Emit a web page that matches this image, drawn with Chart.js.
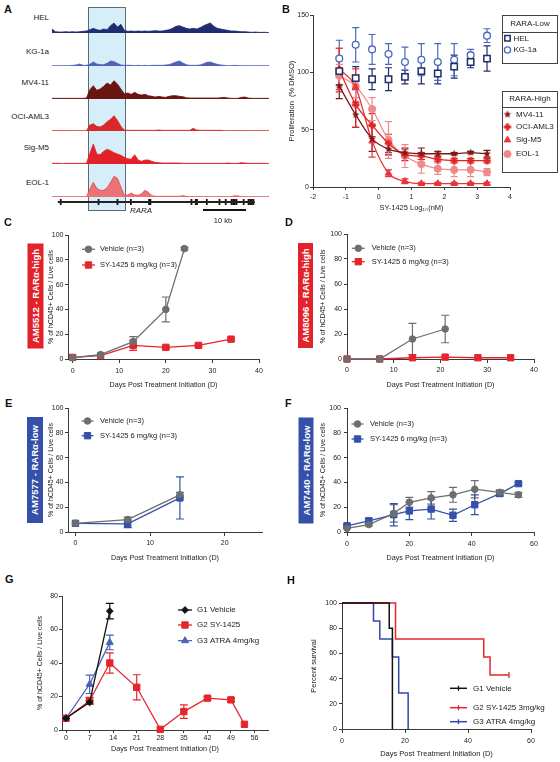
<!DOCTYPE html>
<html>
<head>
<meta charset="utf-8">
<title>SY-1425 / RARA figure</title>
<script src="https://cdn.jsdelivr.net/npm/chart.js@4.4.1/dist/chart.umd.min.js"></script>
<style>
  html, body { margin: 0; padding: 0; background: #fff; }
  #page { position: relative; width: 560px; height: 762px; overflow: hidden;
          font-family: "Liberation Sans", Arial, "DejaVu Sans", sans-serif; color: #222; }
  #page canvas { position: absolute; }
  .t { position: absolute; white-space: nowrap; line-height: 1; }
  .pl { font-size: 11px; font-weight: bold; color: #111; }
  .trk { left: 0; width: 49px; text-align: right; font-size: 8px; color: #222; }
  .tag { position: absolute; color: #fff; font-weight: bold; font-size: 9.5px; text-align: center;
         white-space: nowrap; transform: rotate(-90deg); }
  .hl { position: absolute; background: #d5eef9; border: 1px solid #5b6b72; box-sizing: border-box; }
</style>
</head>
<body>
<div id="page">
  <!-- panel A -->
  <div class="hl" style="left:88px;top:7px;width:38px;height:204px"></div>
  <canvas id="trHEL"></canvas>
  <canvas id="trKG"></canvas>
  <canvas id="trMV"></canvas>
  <canvas id="trOCI"></canvas>
  <canvas id="trSIG"></canvas>
  <canvas id="trEOL"></canvas>
  <canvas id="gene"></canvas>
  <div class="t trk" style="top:14.3px">HEL</div>
  <div class="t trk" style="top:47.7px">KG-1a</div>
  <div class="t trk" style="top:79.3px">MV4-11</div>
  <div class="t trk" style="top:112.7px">OCI-AML3</div>
  <div class="t trk" style="top:144.3px">Sig-M5</div>
  <div class="t trk" style="top:179.3px">EOL-1</div>
  <div class="t" style="left:121px;width:40px;text-align:center;top:206.5px;font-size:8px;font-style:italic">RARA</div>
  <div style="position:absolute;left:203px;top:209px;width:43px;height:2px;background:#111"></div>
  <div class="t" style="left:203px;width:40px;text-align:center;top:216.5px;font-size:7.5px">10 kb</div>

  <!-- charts B-H -->
  <canvas id="chB"></canvas>
  <canvas id="chC"></canvas>
  <canvas id="chD"></canvas>
  <canvas id="chE"></canvas>
  <canvas id="chF"></canvas>
  <canvas id="chG"></canvas>
  <canvas id="chH"></canvas>

  <div class="tag" style="left:-17.5px;top:287.5px;width:105px;height:16px;line-height:16px;background:#e3232b">AM5512 - RARα-high</div>
  <div class="tag" style="left:253px;top:288px;width:105px;height:15px;line-height:15px;background:#e3232b">AM8096 - RARα-high</div>
  <div class="tag" style="left:-18px;top:462px;width:106px;height:16px;line-height:16px;background:#3550a8">AM7577 - RARα-low</div>
  <div class="tag" style="left:253px;top:462.5px;width:106px;height:15px;line-height:15px;background:#3550a8">AM7440 - RARα-low</div>

  <div class="t pl" style="left:4px;top:3.5px">A</div>
  <div class="t pl" style="left:282px;top:3.5px">B</div>
  <div class="t pl" style="left:4px;top:217px">C</div>
  <div class="t pl" style="left:285px;top:217px">D</div>
  <div class="t pl" style="left:5px;top:397.5px">E</div>
  <div class="t pl" style="left:285px;top:397.5px">F</div>
  <div class="t pl" style="left:5px;top:574px">G</div>
  <div class="t pl" style="left:287px;top:575px">H</div>
</div>

<script>
// ---------- Panel A: signal tracks over the RARA locus (64 bins) ----------
const trackHEL = [12, 4, 3, 3, 4, 3, 4, 3,   4, 5, 6, 10, 14, 10, 8, 12,
                  10, 22, 30, 18, 26, 8, 5, 6,   5, 6, 5, 6, 5, 6, 7, 6,
                  6, 8, 10, 14, 20, 22, 18, 14,   12, 14, 12, 16, 22, 26, 30, 20,
                  14, 12, 10, 8, 6, 6, 5, 4,   4, 3, 2, 3, 2, 2, 2, 1];
const trackKG1a = [1, 1, 1, 1, 1, 1, 2, 3,   6, 2, 2, 5, 12, 6, 4, 4,
                   8, 15, 13, 8, 3, 2, 2, 2,   1, 2, 1, 2, 1, 2, 2, 2,
                   2, 3, 4, 8, 12, 15, 9, 4,   2, 2, 2, 3, 7, 11, 12, 8,
                   5, 3, 2, 1, 1, 2, 1, 1,   1, 1, 1, 1, 1, 1, 1, 1];
const trackMV411 = [2, 2, 2, 2, 2, 2, 2, 2,   2, 2, 3, 28, 40, 26, 30, 38,
                    48, 42, 55, 45, 30, 16, 18, 14,   20, 14, 12, 14, 10, 8, 6, 8,
                    6, 5, 8, 10, 10, 8, 7, 4,   3, 3, 3, 3, 3, 3, 3, 3,
                    3, 4, 5, 3, 2, 2, 2, 5,   6, 3, 2, 2, 2, 2, 2, 2];
const trackOCI = [1, 1, 1, 1, 1, 1, 1, 1,   1, 1, 1, 18, 22, 14, 12, 18,
                  28, 35, 46, 32, 14, 3, 2, 2,   2, 2, 2, 2, 2, 2, 2, 3,
                  2, 2, 2, 2, 2, 2, 2, 2,   2, 8, 3, 2, 2, 2, 2, 2,
                  2, 2, 1, 1, 1, 1, 1, 1,   1, 1, 1, 1, 1, 1, 1, 1];
const trackSigM5 = [2, 2, 2, 1, 2, 2, 2, 2,   2, 2, 2, 32, 60, 30, 28, 38,
                    44, 40, 34, 30, 26, 20, 16, 14,   28, 12, 8, 12, 12, 8, 5, 4,
                    3, 3, 3, 3, 3, 3, 2, 2,   2, 2, 2, 2, 2, 2, 2, 2,
                    2, 2, 2, 3, 2, 2, 2, 4,   3, 2, 2, 2, 2, 2, 2, 1];
const trackEOL1 = [1, 1, 1, 1, 1, 1, 1, 1,   1, 1, 1, 24, 44, 26, 20, 20,
                   28, 44, 62, 56, 30, 5, 6, 12,   6, 5, 10, 20, 14, 4, 2, 2,
                   2, 2, 2, 2, 2, 2, 4, 2,   1, 1, 1, 1, 1, 1, 1, 1,
                   1, 1, 1, 1, 1, 4, 3, 1,   1, 1, 1, 1, 1, 1, 1, 1];
const geneEnd = 60.4;
const geneExons = [0.9, 12.5, 18.3, 22.4, 28, 28.4, 41, 42.3, 42.7, 45.7, 49.6, 51.5,
                   53.3, 53.8, 54.3, 54.8, 57, 58.5, 59, 59.5, 60];

// ---------- Panel B: proliferation vs SY-1425 dose ----------
const doseLog = [-1.2, -0.7, -0.2, 0.3, 0.8, 1.3, 1.8, 2.3, 2.8, 3.3];
const helProlif = [101, 95, 94, 94, 96, 101, 99, 105, 109, 112];
const helErr = [12, 10, 9, 10, 6, 11, 9, 10, 5, 11];
const kg1aProlif = [112, 124, 120, 116, 109, 111, 109, 111, 115, 132];
const kg1aErr = [16, 15, 13, 9, 13, 14, 16, 14, 5, 6];
const mv411Prolif = [88, 63, 42, 33, 30, 29, 29, 29, 30, 29];
const mv411Err = [11, 11, 11, 5, 4, 5, 2, 1, 1, 3];
const ociProlif = [102, 72, 54, 38, 28, 27, 24, 23, 23, 23];
const ociErr = [19, 20, 10, 8, 5, 3, 2, 2, 2, 2];
const sigm5Prolif = [103, 87, 40, 12, 5, 3, 3, 3, 3, 3];
const sigm5Err = [18, 16, 14, 3, 2, 1, 1, 1, 1, 1];
const eol1Prolif = [97, 88, 68, 41, 27, 20, 16, 15, 15, 13];
const eol1Err = [10, 10, 10, 16, 10, 8, 5, 6, 6, 3];
const bTicksX = [-2, -1, 0, 1, 2, 3, 4];
const bTicksY = [0, 50, 100, 150];

// ---------- Panel C: AM5512 ----------
const cVehDays = [0, 6, 13, 20, 24];
const cVeh = [1, 3.5, 14, 40, 89];
const cVehErr = [0, 0, 4, 10, 1];
const cSyDays = [0, 6, 13, 20, 27, 34];
const cSy = [1.3, 2.7, 11, 9.4, 11, 16];
const cSyErr = [0, 0, 4, 1, 1, 1];

// ---------- Panel D: AM8096 ----------
const dVehDays = [0, 7, 14, 21];
const dVeh = [0, 0, 16, 24];
const dVehErr = [0, 0, 12.5, 11];
const dSyDays = [0, 7, 14, 21, 28, 35];
const dSy = [0, 0, 1, 1.5, 1, 1];
const dSyErr = [0, 0, 0, 0, 0, 0];

// ---------- Panel E: AM7577 ----------
const eDays = [0, 7, 14];
const eVeh = [7, 10, 30];
const eVehErr = [0, 2, 2];
const eSy = [7, 6.5, 27.5];
const eSyErr = [0, 3, 17];

// ---------- Panel F: AM7440 ----------
const fDays = [0, 7, 15, 20, 27, 34, 41, 49, 55];
const fVeh = [3, 6, 15, 24, 27.5, 30, 34.5, 32, 30];
const fVehErr = [0, 1, 7, 4, 5, 6, 7, 2, 2];
const fSy = [5, 9, 14, 17, 18.5, 13.5, 22, 31, 39];
const fSyErr = [1, 2, 9, 7, 8, 5, 8, 2, 1];

// ---------- Panel G: three-arm PDX ----------
const gVehDays = [0, 7, 13];
const gVeh = [7, 16.5, 71];
const gVehErr = [0, 1, 4.6];
const gSyDays = [0, 7, 13, 21, 28, 35, 42, 49, 53];
const gSy = [7, 17.5, 40, 25.5, 0.4, 11, 19, 18, 3.4];
const gSyErr = [0, 2, 6, 7.5, 0, 4, 1, 1, 0];
const gAtraDays = [0, 7, 13];
const gAtra = [7, 27.3, 52.3];
const gAtraErr = [0, 5.5, 4.4];
const gTicksX = [0, 7, 14, 21, 28, 35, 42, 49, 56];

// ---------- Panel H: survival ----------
const hVehDays = [0, 15, 16];
const hVeh = [100, 80, 0];
const hSyDays = [0, 17, 45, 47, 53];
const hSy = [100, 71.4, 57.1, 42.9, 42.9];
const hAtraDays = [0, 10, 12, 16, 18, 21];
const hAtra = [100, 85.7, 71.4, 57.1, 28.6, 0];

// ---------------------------------------------------------------------------
const FONT = '"Liberation Sans", Arial, "DejaVu Sans", sans-serif';
const GRAY = '#6d6e70', RED = '#e4262c', BLUE = '#3550a8';

Chart.defaults.font.family = FONT;
Chart.defaults.color = '#222';
Chart.defaults.animation = false;
Chart.defaults.responsive = false;
Chart.defaults.maintainAspectRatio = false;
Chart.defaults.events = [];
Chart.defaults.plugins.legend.display = false;
Chart.defaults.plugins.tooltip.enabled = false;

const legendSpecs = {};

// error bars read from dataset.errors
const errorBars = {
  id: 'errorBars',
  beforeDatasetsDraw(chart) {
    const ctx = chart.ctx;
    chart.data.datasets.forEach((ds, i) => {
      if (!ds.errors) return;
      const meta = chart.getDatasetMeta(i);
      const ys = chart.scales[meta.yAxisID];
      const cap = ds.errCap || 4;
      ctx.save();
      ctx.strokeStyle = ds.borderColor;
      ctx.lineWidth = 1.2;
      meta.data.forEach((pt, j) => {
        const e = ds.errors[j];
        if (!e) return;
        const v = ds.data[j].y;
        const top = ys.getPixelForValue(v + e), bot = ys.getPixelForValue(v - e);
        ctx.beginPath();
        ctx.moveTo(pt.x, top); ctx.lineTo(pt.x, bot);
        ctx.moveTo(pt.x - cap, top); ctx.lineTo(pt.x + cap, top);
        ctx.moveTo(pt.x - cap, bot); ctx.lineTo(pt.x + cap, bot);
        ctx.stroke();
      });
      ctx.restore();
    });
  }
};

// legend drawn at fixed page positions (line + marker + label)
const keyBox = {
  id: 'keyBox',
  afterDraw(chart) {
    const spec = legendSpecs[chart.canvas.id];
    if (!spec) return;
    const ctx = chart.ctx;
    const ox = parseFloat(chart.canvas.style.left), oy = parseFloat(chart.canvas.style.top);
    ctx.save();
    ctx.font = spec.font + 'px ' + FONT;
    ctx.textBaseline = 'middle';
    (spec.boxes || []).forEach(b => {
      ctx.strokeStyle = '#444';
      ctx.lineWidth = 1;
      ctx.strokeRect(b.x0 - ox + 0.5, b.y0 - oy + 0.5, b.x1 - b.x0, b.y1 - b.y0);
      ctx.beginPath();
      ctx.moveTo(b.x0 - ox, b.hy - oy + 0.5);
      ctx.lineTo(b.x1 - ox + 1, b.hy - oy + 0.5);
      ctx.stroke();
      ctx.fillStyle = '#222';
      ctx.textAlign = 'center';
      ctx.fillText(b.title, (b.x0 + b.x1) / 2 - ox + 0.5, b.ty - oy);
    });
    spec.items.forEach(it => {
      const ds = chart.data.datasets[it.ds];
      const x = it.x - ox, y = it.y - oy;
      if (it.line) {
        ctx.strokeStyle = ds.borderColor;
        ctx.lineWidth = ds.borderWidth || 1;
        ctx.beginPath();
        ctx.moveTo(x - it.line, y); ctx.lineTo(x + it.line, y);
        ctx.stroke();
      }
      ctx.fillStyle = ds.pointBackgroundColor || ds.backgroundColor || ds.borderColor;
      ctx.strokeStyle = ds.pointBorderColor || ds.borderColor;
      ctx.lineWidth = ds.pointBorderWidth || 1;
      const r = it.r != null ? it.r : ds.pointRadius;
      Chart.helpers.drawPoint(ctx, { pointStyle: ds.pointStyle, rotation: ds.pointRotation || 0,
                                     radius: r, borderWidth: ctx.lineWidth }, x, y);
      ctx.fillStyle = '#222';
      ctx.textAlign = 'left';
      ctx.fillText(ds.label, it.tx - ox, y);
    });
    ctx.restore();
  }
};
Chart.register(errorBars, keyBox);

function starImg(color, r) {
  const c = document.createElement('canvas');
  const s = Math.ceil(r * 2 + 2);
  c.width = c.height = s;
  const g = c.getContext('2d');
  g.fillStyle = color;
  g.beginPath();
  for (let k = 0; k < 10; k++) {
    const rr = k % 2 ? r * 0.45 : r;
    const a = -Math.PI / 2 + k * Math.PI / 5;
    g.lineTo(s / 2 + rr * Math.cos(a), s / 2 + rr * Math.sin(a));
  }
  g.closePath();
  g.fill();
  return c;
}

function plusImg(color, r) {
  const c = document.createElement('canvas');
  const s = Math.ceil(r * 2 + 2);
  c.width = c.height = s;
  const g = c.getContext('2d');
  g.fillStyle = color;
  g.fillRect(s / 2 - r, s / 2 - r * 0.42, 2 * r, r * 0.84);
  g.fillRect(s / 2 - r * 0.42, s / 2 - r, r * 0.84, 2 * r);
  return c;
}

function axis(pos, a, size) {
  return {
    type: 'linear', position: pos, min: a.min, max: a.max,
    ticks: { autoSkip: false, maxRotation: 0, minRotation: 0, padding: a.pad, color: '#222',
             font: { size: a.fs || 7 } },
    grid: { drawOnChartArea: false, drawTicks: true, tickLength: a.tl, tickColor: '#3a3a3a', tickWidth: 1 },
    border: { display: true, color: '#3a3a3a', width: 1 },
    title: { display: true, text: a.title, color: '#222', font: { size: a.tfs || 7 }, padding: 0 },
    afterBuildTicks: s => { s.ticks = a.ticks.map(v => ({ value: v })); },
    afterFit: s => { if (pos === 'bottom') s.height = size; else s.width = size; }
  };
}

// plot = chart area in page px; ext = y-axis width, x-axis height, paddings
function panel(id, plot, ext, xa, ya, datasets, key) {
  const cv = document.getElementById(id);
  const left = plot.l - ext.yw, top = plot.t - ext.padT;
  const w = plot.r - plot.l + ext.yw + ext.padR;
  const h = plot.b - plot.t + ext.padT + ext.xh;
  Object.assign(cv.style, { left: left + 'px', top: top + 'px', width: w + 'px', height: h + 'px' });
  cv.width = w; cv.height = h;
  if (key) legendSpecs[id] = key;
  return new Chart(cv, {
    type: 'scatter',
    data: { datasets },
    options: {
      devicePixelRatio: 1,
      layout: { padding: { left: 0, top: ext.padT, right: ext.padR, bottom: 0 } },
      scales: { x: axis('bottom', xa, ext.xh), y: axis('left', ya, ext.yw) }
    }
  });
}

function series(label, xs, ys, errs, style) {
  return Object.assign({
    label, data: xs.map((x, i) => ({ x, y: ys[i] })), errors: errs,
    showLine: true, clip: false, fill: false, borderWidth: 1.3, pointBorderWidth: 1, tension: 0
  }, style);
}

// ---------- A ----------
function track(id, values, fillColor, edgeColor, baseline) {
  const cv = document.getElementById(id);
  Object.assign(cv.style, { left: '52px', top: (baseline - 26) + 'px', width: '217px', height: '26px' });
  cv.width = 217; cv.height = 26;
  new Chart(cv, {
    type: 'line',
    data: { labels: values.map((_, i) => i),
            datasets: [{ data: values, borderColor: edgeColor, backgroundColor: fillColor, borderWidth: 0.8,
                         fill: 'origin', pointRadius: 0, tension: 0, clip: false }] },
    options: { devicePixelRatio: 1, layout: { padding: 0 },
               scales: { x: { display: false }, y: { display: false, min: 0, max: 78 } } }
  });
}
track('trHEL', trackHEL, '#1f2d70', '#1f2d70', 33);
track('trKG', trackKG1a, '#4c61b8', '#4c61b8', 66);
track('trMV', trackMV411, '#6b1511', '#6b1511', 99);
track('trOCI', trackOCI, '#d8282b', '#d8282b', 131);
track('trSIG', trackSigM5, '#e2222a', '#e2222a', 164);
track('trEOL', trackEOL1, '#ec7275', '#e2474c', 197);

(function gene() {
  const cv = document.getElementById('gene');
  Object.assign(cv.style, { left: '52px', top: '196px', width: '217px', height: '12px' });
  cv.width = 217; cv.height = 12;
  new Chart(cv, {
    type: 'scatter',
    data: { datasets: [
      { data: [{ x: 0, y: 0 }, { x: geneEnd, y: 0 }], showLine: true, borderColor: '#222', borderWidth: 2,
        pointRadius: 0, clip: false },
      { data: geneExons.map(x => ({ x, y: 0 })), pointStyle: 'line', pointRotation: 90, pointRadius: 3,
        pointBorderWidth: 1.8, borderColor: '#111', clip: false }
    ] },
    options: { devicePixelRatio: 1, layout: { padding: 0 },
               scales: { x: { type: 'linear', display: false, min: 0, max: 63 },
                         y: { display: false, min: -1, max: 1 } } }
  });
})();

// ---------- B ----------
const NAVY = '#1f2e6e', KGB = '#4a68c0', MVC = '#7b1a1a', OCIC = '#e02424', SIGC = '#e8353a', EOLC = '#f08a8a';
panel('chB', { l: 313, t: 15, r: 510, b: 187 }, { yw: 26, xh: 25, padT: 8, padR: 50 },
  { min: -2, max: 4, ticks: bTicksX, tl: 3, pad: 3, title: 'SY-1425 Log\u2081\u2080(nM)', tfs: 7.5 },
  { min: 0, max: 150, ticks: bTicksY, tl: 3, pad: 1, title: 'Proliferation  (% DMSO)', tfs: 7.5 },
  [
    series('HEL', doseLog, helProlif, helErr, { showLine: false, borderColor: NAVY, backgroundColor: '#fff',
      pointStyle: 'rect', pointRadius: 4.5, pointBorderWidth: 1.5, errCap: 3.5 }),
    series('KG-1a', doseLog, kg1aProlif, kg1aErr, { showLine: false, borderColor: KGB, backgroundColor: '#fff',
      pointStyle: 'circle', pointRadius: 3.4, pointBorderWidth: 1.3, errCap: 3.5 }),
    series('MV4-11', doseLog, mv411Prolif, mv411Err, { borderColor: MVC, backgroundColor: MVC,
      pointStyle: starImg(MVC, 4), pointRadius: 4, cubicInterpolationMode: 'monotone', errCap: 3.5 }),
    series('OCI-AML3', doseLog, ociProlif, ociErr, { borderColor: OCIC, backgroundColor: OCIC,
      pointStyle: plusImg(OCIC, 3.6), pointRadius: 4, cubicInterpolationMode: 'monotone', errCap: 3.5 }),
    series('Sig-M5', doseLog, sigm5Prolif, sigm5Err, { borderColor: SIGC, backgroundColor: SIGC,
      pointStyle: 'triangle', pointRadius: 3.8, cubicInterpolationMode: 'monotone', errCap: 3.5 }),
    series('EOL-1', doseLog, eol1Prolif, eol1Err, { borderColor: EOLC, backgroundColor: EOLC,
      pointStyle: 'circle', pointRadius: 3.6, cubicInterpolationMode: 'monotone', errCap: 3.5 })
  ],
  {
    font: 8,
    boxes: [{ x0: 502, y0: 15, x1: 557, y1: 63, hy: 32, ty: 23.5, title: 'RARA-Low' },
            { x0: 502, y0: 91, x1: 557, y1: 172, hy: 107, ty: 99, title: 'RARA-High' }],
    items: [{ ds: 0, x: 507.5, y: 38.3, tx: 513.5, r: 3.8 }, { ds: 1, x: 507.5, y: 50, tx: 513.5, r: 3.1 },
            { ds: 2, x: 507.5, y: 114.5, tx: 516 }, { ds: 3, x: 507.5, y: 127, tx: 516 },
            { ds: 4, x: 507.5, y: 140, tx: 516 }, { ds: 5, x: 507.5, y: 154, tx: 516 }]
  });

// ---------- C-F ----------
const yPct = { min: 0, max: 100, ticks: [0, 20, 40, 60, 80, 100], tl: 3, pad: 1.5,
               title: '% of hCD45+ Cells / Live cells', tfs: 7 };
const daysTitle = 'Days Post Treatment Initiation (D)';
const vehStyle = { borderColor: GRAY, backgroundColor: GRAY, pointStyle: 'circle', pointRadius: 3.3 };
const redSq = { borderColor: RED, backgroundColor: RED, pointStyle: 'rect', pointRadius: 4.5 };
const blueSq = { borderColor: BLUE, backgroundColor: BLUE, pointStyle: 'rect', pointRadius: 4.5 };

panel('chC', { l: 68, t: 235, r: 259, b: 359 }, { yw: 21, xh: 30, padT: 8, padR: 10 },
  { min: -1, max: 40, ticks: [0, 10, 20, 30, 40], tl: 4, pad: 3.5, title: daysTitle, tfs: 7.2 },
  yPct,
  [series('Vehicle (n=3)', cVehDays, cVeh, cVehErr, vehStyle),
   series('SY-1425 6 mg/kg (n=3)', cSyDays, cSy, cSyErr, redSq)],
  { font: 7.5, items: [{ ds: 0, x: 88.5, y: 249.3, line: 6.5, tx: 100 },
                       { ds: 1, x: 88.5, y: 265, line: 6.5, tx: 100 }] });

panel('chD', { l: 347, t: 234, r: 534, b: 359 }, { yw: 28, xh: 30, padT: 8, padR: 10 },
  { min: 0, max: 40, ticks: [0, 10, 20, 30, 40], tl: 4, pad: 3, title: daysTitle, tfs: 7.2 },
  Object.assign({}, yPct, { pad: 2 }),
  [series('Vehicle (n=3)', dVehDays, dVeh, dVehErr, vehStyle),
   series('SY-1425 6 mg/kg (n=3)', dSyDays, dSy, dSyErr, redSq)],
  { font: 7.5, items: [{ ds: 0, x: 358.3, y: 248.3, line: 6.5, tx: 371.7 },
                       { ds: 1, x: 358.3, y: 261.7, line: 6.5, tx: 371.7 }] });

panel('chE', { l: 68, t: 408, r: 262, b: 532 }, { yw: 21, xh: 30, padT: 8, padR: 10 },
  { min: -1, max: 25, ticks: [0, 10, 20], tl: 4, pad: 3, title: daysTitle, tfs: 7.2 },
  yPct,
  [series('Vehicle (n=3)', eDays, eVeh, eVehErr, vehStyle),
   series('SY-1425 6 mg/kg (n=3)', eDays, eSy, eSyErr, blueSq)],
  { font: 7.5, items: [{ ds: 0, x: 87.5, y: 421, line: 6, tx: 100 },
                       { ds: 1, x: 87.5, y: 435.7, line: 6, tx: 100 }] });

panel('chF', { l: 347, t: 408, r: 534, b: 532 }, { yw: 28, xh: 30, padT: 8, padR: 10 },
  { min: 0, max: 60, ticks: [0, 20, 40, 60], tl: 4, pad: 4, title: daysTitle, tfs: 7.2 },
  Object.assign({}, yPct, { pad: 3 }),
  [series('Vehicle (n=3)', fDays, fVeh, fVehErr, vehStyle),
   series('SY-1425 6 mg/kg (n=3)', fDays, fSy, fSyErr, blueSq)],
  { font: 7.5, items: [{ ds: 0, x: 357.5, y: 424, line: 6, tx: 370 },
                       { ds: 1, x: 357.5, y: 439, line: 6, tx: 370 }] });

// ---------- G ----------
panel('chG', { l: 62, t: 596, r: 268, b: 730 }, { yw: 26, xh: 23, padT: 8, padR: 10 },
  { min: -1.2, max: 60, ticks: gTicksX, tl: 3, pad: 1, title: daysTitle, tfs: 7.2 },
  { min: 0, max: 80, ticks: [0, 20, 40, 60, 80], tl: 3, pad: 1, title: '% of hCD45+ Cells / Live cells', tfs: 7 },
  [series('G1 Vehicle', gVehDays, gVeh, gVehErr, { borderColor: '#111', backgroundColor: '#111',
     pointStyle: 'rectRot', pointRadius: 3.4 }),
   series('G2 SY-1425', gSyDays, gSy, gSyErr, redSq),
   series('G3 ATRA 4mg/kg', gAtraDays, gAtra, gAtraErr, { borderColor: '#4a62b8', backgroundColor: '#4a62b8',
     pointStyle: 'triangle', pointRadius: 4 })],
  { font: 8, items: [{ ds: 0, x: 185, y: 610, line: 7, tx: 197 },
                     { ds: 1, x: 185, y: 625, line: 7, tx: 197 },
                     { ds: 2, x: 185, y: 640.7, line: 7, tx: 197 }] });

// ---------- H ----------
const km = { stepped: true, pointStyle: 'line', pointRotation: 90, borderWidth: 1.5, pointBorderWidth: 1.3 };
panel('chH', { l: 342, t: 603, r: 531, b: 729 }, { yw: 33, xh: 29, padT: 8, padR: 20 },
  { min: 0, max: 60, ticks: [0, 20, 40, 60], tl: 4, pad: 3.5, title: daysTitle, tfs: 7.5 },
  { min: 0, max: 100, ticks: [0, 20, 40, 60, 80, 100], tl: 3, pad: 2, title: 'Percent survival', tfs: 7.5 },
  [series('G1 Vehicle', hVehDays, hVeh, null, Object.assign({}, km, { borderColor: '#111',
     pointRadius: hVeh.map(() => 0) })),
   series('G2 SY-1425 3mg/kg', hSyDays, hSy, null, Object.assign({}, km, { borderColor: '#e8262c',
     pointRadius: hSy.map((_, i) => (i === hSy.length - 1 ? 3 : 0)) })),
   series('G3 ATRA 4mg/kg', hAtraDays, hAtra, null, Object.assign({}, km, { borderColor: '#2e4aa8',
     pointRadius: hAtra.map(() => 0) }))],
  { font: 8, items: [{ ds: 0, x: 458.5, y: 688.3, line: 8.5, tx: 473, r: 2.5 },
                     { ds: 1, x: 458.5, y: 707.7, line: 8.5, tx: 473, r: 2.5 },
                     { ds: 2, x: 458.5, y: 721.7, line: 8.5, tx: 473, r: 2.5 }] });
</script>
</body>
</html>
